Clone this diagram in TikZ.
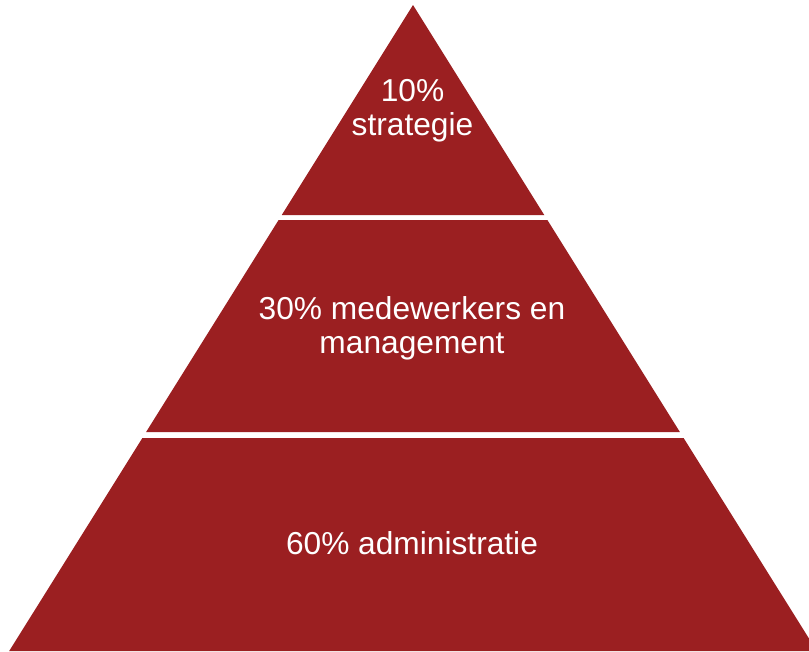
\documentclass[tikz,border=0pt]{standalone}
\usepackage{fontspec}
\setmainfont{Liberation Sans}
\definecolor{pyrred}{RGB}{155,31,33}
\begin{document}
\begin{tikzpicture}[x=1pt,y=-1pt,
  tier/.style={fill=pyrred,draw=none},
  label/.style={text=white,align=center,anchor=base,inner sep=0pt,
    font=\fontsize{31.7}{34}\selectfont}]
\useasboundingbox (0,0) rectangle (809,651);
\begin{scope}
\clip (0,0) rectangle (809,651);
\fill[tier] (413,5) -- (544.25,215) -- (281.75,215) -- cycle;
\fill[tier] (278.6,220) -- (547.4,220) -- (679.9,432) -- (146.1,432) -- cycle;
\fill[tier] (142.4,438) -- (683.6,438) -- (816.8,651) -- (9.2,651) -- cycle;
\end{scope}
\node[label] (top) at (412.5,135) {10\%\\strategie};
\node[label] (mid) at (412,353) {30\% medewerkers en\\management};
\node[label] (bot) at (412,554) {60\% administratie};
\end{tikzpicture}
\end{document}
